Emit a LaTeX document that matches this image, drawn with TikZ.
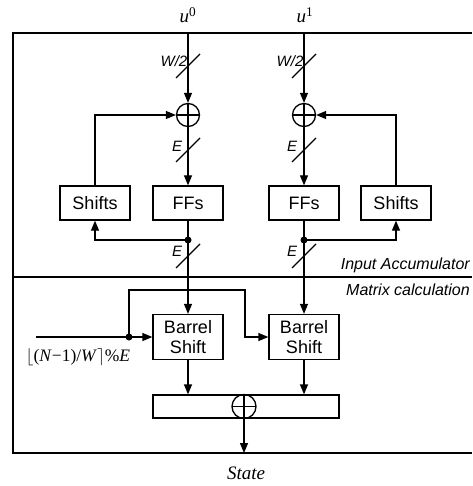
\documentclass[tikz,border=0pt]{standalone}
\usepackage{fontspec}
\setmainfont{Liberation Sans}
\newfontfamily\tnr{Liberation Serif}
\usetikzlibrary{arrows.meta}
\begin{document}
\begin{tikzpicture}[x=1pt,y=-1pt,
  wire/.style={line width=1.3pt},
  arr/.style={wire,-{Triangle[length=10pt,width=8pt]}},
  blk/.style={draw,line width=1.3pt,minimum width=70pt,minimum height=34pt,inner sep=0pt,font=\fontsize{18}{20}\selectfont},
  bblk/.style={blk,minimum height=45pt,align=center},
  xorc/.style={draw,circle,minimum size=23pt,inner sep=0pt,line width=1.3pt,
    path picture={\draw[line width=1.3pt] (path picture bounding box.north) -- (path picture bounding box.south) (path picture bounding box.west) -- (path picture bounding box.east);}},
  jdot/.style={circle,fill,minimum size=7pt,inner sep=0pt},
  buslbl/.style={font=\fontsize{15}{17}\selectfont\itshape,inner sep=0pt},
  seclbl/.style={font=\fontsize{16}{18}\selectfont\itshape,inner sep=0pt,anchor=east},
  serlbl/.style={font=\fontsize{19}{22}\selectfont\tnr,inner sep=0pt}]
\useasboundingbox (0,0) rectangle (472,486);
% frame
\draw[wire] (472,33) -- (13,33) -- (13,453) -- (472,453);
\draw[wire] (13,277) -- (472,277);
\node[seclbl] (secA) at (470,265) {Input Accumulator};
\node[seclbl] (secB) at (470,290) {Matrix calculation};
% inputs
\node[serlbl] (u0) at (188,15) {\textit{u}\textsuperscript{0}};
\node[serlbl] (u1) at (305,15) {\textit{u}\textsuperscript{1}};
\coordinate (t0) at (188,33);
\coordinate (t1) at (304,33);
% xor
\node[xorc] (x0) at (188,115) {};
\node[xorc] (x1) at (304,115) {};
% blocks
\node[blk] (ff0) at (188,203) {FFs};
\node[blk] (sh0) at (95,203) {Shifts};
\node[blk] (ff1) at (304,203) {FFs};
\node[blk] (sh1) at (396,203) {Shifts};
\node[bblk] (bs0) at (188,337) {Barrel\\Shift};
\node[bblk] (bs1) at (304,337) {Barrel\\Shift};
% dots
\node[jdot] (d0) at (188,240) {};
\node[jdot] (d1) at (304,240) {};
% connections top
\draw[arr] (t0) -- (x0.north);
\draw[arr] (t1) -- (x1.north);
\draw[arr] (x0.south) -- (ff0.north);
\draw[arr] (x1.south) -- (ff1.north);
\draw[arr] (sh0.north) |- (x0.west);
\draw[arr] (sh1.north) |- (x1.east);
\draw[arr] (ff0.south) -- (bs0.north);
\draw[arr] (ff1.south) -- (bs1.north);
\draw[arr] (d0.center) -| (sh0.south);
\draw[arr] (d1.center) -| (sh1.south);
% bus slashes
\foreach \xx/\yy/\nm in {188/66/a,304/66/b,188/150/c,304/150/d,188/256/e,304/256/f}{
  \coordinate (s\nm) at (\xx,\yy);
  \draw[wire] ([shift={(-12,12)}]s\nm) -- ([shift={(12,-12)}]s\nm);
}
\node[buslbl] (lw0) at (174,61) {W/2};
\node[buslbl] (lw1) at (290,61) {W/2};
\node[buslbl] (le0) at (177,146) {E};
\node[buslbl] (le1) at (292,146) {E};
\node[buslbl] (le2) at (177,251) {E};
\node[buslbl] (le3) at (292,251) {E};
% barrel inputs
\coordinate (in) at (36,337);
\node[jdot] (d2) at (129,337) {};
\coordinate (turn) at (245,290);
\draw[arr] (in) -- (bs0.west);
\draw[arr] (d2.center) |- (turn) |- (bs1.west);
\node[font=\fontsize{17.5}{20}\selectfont\tnr,inner sep=0pt] (fm) at (78,357) {$\lfloor$(\textit{N}−1)/\textit{W}$\rceil$\%\textit{E}};
% accumulator
\node[draw,line width=1.3pt,minimum width=186pt,minimum height=23pt,inner sep=0pt] (acc) at (246,406.5) {};
\node[xorc,minimum size=24pt] (x2) at (244,406.5) {};
\draw[arr] (bs0.south) -- (bs0.south |- acc.north);
\draw[arr] (bs1.south) -- (bs1.south |- acc.north);
\coordinate (out) at (244,453);
\draw[arr] (x2.south) -- (out);
\node[serlbl] (st) at (246,473) {\textit{State}};
\end{tikzpicture}
\end{document}
